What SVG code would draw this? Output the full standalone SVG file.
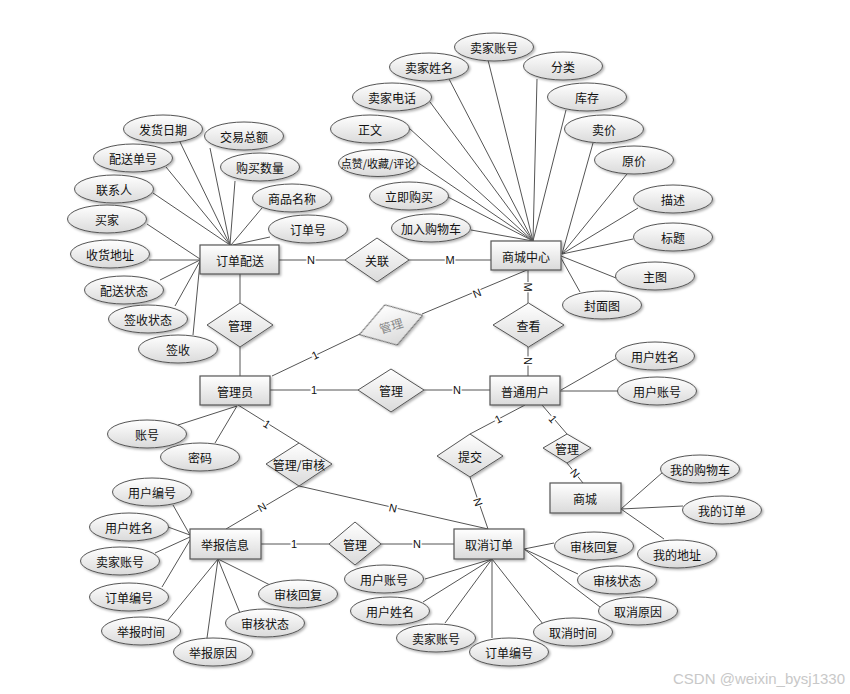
<svg xmlns="http://www.w3.org/2000/svg" width="850" height="694" viewBox="0 0 850 694">
<style>
.bg{fill:#ffffff}
.ln{stroke:#555;stroke-width:1;fill:none}
.ent{fill:url(#gr);stroke:#555;stroke-width:1.2;filter:url(#sh)}
.att{fill:url(#gr);stroke:#555;stroke-width:1;filter:url(#sh)}
.rel{fill:url(#gr);stroke:#555;stroke-width:1;filter:url(#sh)}
text{font-family:"Noto Sans CJK SC","Liberation Sans",sans-serif;font-size:12px;fill:#111;text-anchor:middle;dominant-baseline:central}
.lb{font-family:"Liberation Sans","Noto Sans CJK SC",sans-serif;font-size:11px;stroke:#fff;stroke-width:3;paint-order:stroke;fill:#111}
.wm{font-family:"Liberation Sans",sans-serif;font-size:15px;fill:#c8c8c8;text-anchor:end;dominant-baseline:alphabetic}
</style>
<defs>
<linearGradient id="gr" x1="0" y1="0" x2="0" y2="1">
<stop offset="0" stop-color="#ffffff"/>
<stop offset="1" stop-color="#dadada"/>
</linearGradient>
<filter id="sh" x="-20%" y="-20%" width="150%" height="150%">
<feDropShadow dx="1.5" dy="1.5" stdDeviation="1" flood-color="#000" flood-opacity="0.3"/>
</filter>
</defs>
<rect class="bg" x="0" y="0" width="850" height="694"/>

<g id="connectors">
<!-- 订单配送 attributes -->
<line class="ln" x1="180" y1="142" x2="230" y2="245"/>
<line class="ln" x1="210" y1="148" x2="230" y2="245"/>
<line class="ln" x1="166" y1="167" x2="230" y2="245"/>
<line class="ln" x1="235" y1="181" x2="230" y2="245"/>
<line class="ln" x1="153" y1="193" x2="230" y2="245"/>
<line class="ln" x1="262" y1="208" x2="231" y2="245"/>
<line class="ln" x1="270" y1="237" x2="233" y2="245"/>
<line class="ln" x1="147" y1="224" x2="200" y2="259"/>
<line class="ln" x1="149" y1="260" x2="200" y2="260"/>
<line class="ln" x1="160" y1="280" x2="200" y2="260"/>
<line class="ln" x1="175" y1="306" x2="200" y2="261"/>
<line class="ln" x1="193" y1="335" x2="200" y2="262"/>
<!-- 商城中心 attributes -->
<line class="ln" x1="488" y1="60" x2="533" y2="241"/>
<line class="ln" x1="448" y1="77" x2="533" y2="241"/>
<line class="ln" x1="537" y1="79" x2="533" y2="241"/>
<line class="ln" x1="430" y1="102" x2="533" y2="241"/>
<line class="ln" x1="566" y1="110" x2="533" y2="241"/>
<line class="ln" x1="409" y1="128" x2="533" y2="241"/>
<line class="ln" x1="417" y1="162" x2="533" y2="241"/>
<line class="ln" x1="448" y1="197" x2="533" y2="241"/>
<line class="ln" x1="471" y1="230" x2="533" y2="241"/>
<line class="ln" x1="593" y1="143" x2="562" y2="254"/>
<line class="ln" x1="627" y1="174" x2="562" y2="254"/>
<line class="ln" x1="638" y1="208" x2="562" y2="254"/>
<line class="ln" x1="633" y1="239" x2="562" y2="254"/>
<line class="ln" x1="616" y1="278" x2="561" y2="256"/>
<line class="ln" x1="580" y1="292" x2="561" y2="258"/>
<!-- 管理员 attributes -->
<line class="ln" x1="178" y1="425" x2="237" y2="406"/>
<line class="ln" x1="215" y1="443" x2="237" y2="406"/>
<!-- 普通用户 attributes -->
<line class="ln" x1="617" y1="358" x2="561" y2="390"/>
<line class="ln" x1="618" y1="391" x2="560" y2="391"/>
<!-- 商城 attributes -->
<line class="ln" x1="663" y1="472" x2="621" y2="509"/>
<line class="ln" x1="683" y1="506" x2="621" y2="509"/>
<line class="ln" x1="664" y1="539" x2="621" y2="509"/>
<!-- 举报信息 attributes -->
<line class="ln" x1="173" y1="505" x2="190" y2="535"/>
<line class="ln" x1="168" y1="527" x2="190" y2="535"/>
<line class="ln" x1="155" y1="553" x2="190" y2="537"/>
<line class="ln" x1="162" y1="587" x2="190" y2="540"/>
<line class="ln" x1="168" y1="620" x2="218" y2="559"/>
<line class="ln" x1="207" y1="638" x2="218" y2="559"/>
<line class="ln" x1="240" y1="613" x2="218" y2="559"/>
<line class="ln" x1="270" y1="585" x2="218" y2="559"/>
<!-- 取消订单 attributes -->
<line class="ln" x1="554" y1="543" x2="524" y2="549"/>
<line class="ln" x1="578" y1="574" x2="524" y2="549"/>
<line class="ln" x1="600" y1="607" x2="524" y2="549"/>
<line class="ln" x1="425" y1="579" x2="492" y2="559"/>
<line class="ln" x1="423" y1="602" x2="492" y2="559"/>
<line class="ln" x1="445" y1="623" x2="492" y2="559"/>
<line class="ln" x1="492" y1="638" x2="492" y2="559"/>
<line class="ln" x1="543" y1="624" x2="492" y2="559"/>
<!-- relationships -->
<line class="ln" x1="279" y1="260" x2="345" y2="260"/>
<line class="ln" x1="409" y1="260" x2="491" y2="260"/>
<line class="ln" x1="240" y1="274" x2="240" y2="303"/>
<line class="ln" x1="240" y1="347" x2="240" y2="376"/>
<line class="ln" x1="272" y1="376" x2="360" y2="334"/>
<line class="ln" x1="422" y1="314" x2="527" y2="270"/>
<line class="ln" x1="528" y1="270" x2="528" y2="303"/>
<line class="ln" x1="528" y1="347" x2="528" y2="376"/>
<line class="ln" x1="270" y1="390" x2="358" y2="390"/>
<line class="ln" x1="424" y1="390" x2="490" y2="390"/>
<line class="ln" x1="238" y1="405" x2="299" y2="443"/>
<line class="ln" x1="299" y1="486" x2="226" y2="529"/>
<line class="ln" x1="299" y1="486" x2="488" y2="529"/>
<line class="ln" x1="525" y1="405" x2="470" y2="434"/>
<line class="ln" x1="470" y1="477" x2="488" y2="529"/>
<line class="ln" x1="542" y1="405" x2="567" y2="434"/>
<line class="ln" x1="567" y1="463" x2="583" y2="483"/>
<line class="ln" x1="261" y1="544" x2="329" y2="544"/>
<line class="ln" x1="381" y1="544" x2="454" y2="544"/>
<!-- cardinality labels -->
<text class="lb" x="311" y="260">N</text>
<text class="lb" x="450" y="260">M</text>
<text class="lb" transform="rotate(-26 315 355)" x="315" y="355">1</text>
<text class="lb" transform="rotate(-22 477 293)" x="477" y="293">N</text>
<text class="lb" transform="rotate(90 528 287)" x="528" y="287">M</text>
<text class="lb" transform="rotate(90 528 361)" x="528" y="361">N</text>
<text class="lb" x="314" y="390">1</text>
<text class="lb" x="457" y="390">N</text>
<text class="lb" transform="rotate(32 267 424)" x="267" y="424">1</text>
<text class="lb" transform="rotate(-30 262 507)" x="262" y="507">N</text>
<text class="lb" transform="rotate(13 393 508)" x="393" y="508">N</text>
<text class="lb" transform="rotate(-28 498 419)" x="498" y="419">1</text>
<text class="lb" transform="rotate(71 478 502)" x="478" y="502">N</text>
<text class="lb" transform="rotate(49 553 419)" x="553" y="419">1</text>
<text class="lb" transform="rotate(51 575 473)" x="575" y="473">N</text>
<text class="lb" x="294" y="544">1</text>
<text class="lb" x="417" y="544">N</text>
</g>

<g id="rel-guanlian"><polygon class="rel" points="345,260 377,238 409,260 377,282"/><text x="377" y="260">关联</text></g>
<g id="rel-guanli-1"><polygon class="rel" points="207,325 240,303 273,325 240,347"/><text x="240" y="325">管理</text></g>
<g id="rel-guanli-2" transform="rotate(-17 391 325)"><polygon class="rel" points="358,325 391,304 424,325 391,346"/><text x="391" y="325" style="fill:#888">管理</text></g>
<g id="rel-chakan"><polygon class="rel" points="493,325 528.5,303 564,325 528.5,347"/><text x="528.5" y="325">查看</text></g>
<g id="rel-guanli-3"><polygon class="rel" points="358,390 391,369 424,390 391,412"/><text x="391" y="390">管理</text></g>
<g id="rel-shenhe"><polygon class="rel" points="266,464 299,443 332,464 299,486"/><text x="299" y="464">管理/审核</text></g>
<g id="rel-tijiao"><polygon class="rel" points="437,456 470,434 503,456 470,477"/><text x="470" y="456">提交</text></g>
<g id="rel-guanli-4"><polygon class="rel" points="543,448 567,434 591,448 567,463"/><text x="567" y="448">管理</text></g>
<g id="rel-guanli-5"><polygon class="rel" points="329,544 355,522 381,544 355,565"/><text x="355" y="544">管理</text></g>

<g id="ent-dingdanpeisong"><rect class="ent" x="200" y="245" width="79" height="29"/><text x="240" y="260">订单配送</text></g>
<g id="ent-shangchengzhongxin"><rect class="ent" x="491" y="241" width="70" height="29"/><text x="526" y="256">商城中心</text></g>
<g id="ent-guanliyuan"><rect class="ent" x="200" y="376" width="70" height="29"/><text x="235" y="391">管理员</text></g>
<g id="ent-putongyonghu"><rect class="ent" x="490" y="376" width="70" height="29"/><text x="525" y="391">普通用户</text></g>
<g id="ent-shangcheng"><rect class="ent" x="550" y="483" width="71" height="30"/><text x="585" y="498">商城</text></g>
<g id="ent-jubaoxinxi"><rect class="ent" x="190" y="529" width="71" height="30"/><text x="225" y="544">举报信息</text></g>
<g id="ent-quxiaodingdan"><rect class="ent" x="454" y="529" width="70" height="30"/><text x="489" y="544">取消订单</text></g>

<g id="attr-dd-1"><ellipse class="att" cx="163" cy="129" rx="39.5" ry="14"/><text x="163" y="129">发货日期</text></g>
<g id="attr-dd-2"><ellipse class="att" cx="244" cy="136" rx="39.5" ry="14"/><text x="244" y="136">交易总额</text></g>
<g id="attr-dd-3"><ellipse class="att" cx="133" cy="158" rx="39.5" ry="14"/><text x="133" y="158">配送单号</text></g>
<g id="attr-dd-4"><ellipse class="att" cx="260" cy="167" rx="39.5" ry="14"/><text x="260" y="167">购买数量</text></g>
<g id="attr-dd-5"><ellipse class="att" cx="114" cy="189" rx="39.5" ry="14"/><text x="114" y="189">联系人</text></g>
<g id="attr-dd-6"><ellipse class="att" cx="292" cy="198" rx="39.5" ry="14"/><text x="292" y="198">商品名称</text></g>
<g id="attr-dd-7"><ellipse class="att" cx="107" cy="219" rx="39.5" ry="14"/><text x="107" y="219">买家</text></g>
<g id="attr-dd-8"><ellipse class="att" cx="308" cy="229" rx="39.5" ry="14"/><text x="308" y="229">订单号</text></g>
<g id="attr-dd-9"><ellipse class="att" cx="110" cy="254" rx="39.5" ry="14"/><text x="110" y="254">收货地址</text></g>
<g id="attr-dd-10"><ellipse class="att" cx="124" cy="290" rx="39.5" ry="14"/><text x="124" y="290">配送状态</text></g>
<g id="attr-dd-11"><ellipse class="att" cx="148" cy="319" rx="39.5" ry="14"/><text x="148" y="319">签收状态</text></g>
<g id="attr-dd-12"><ellipse class="att" cx="178" cy="349" rx="39.5" ry="14"/><text x="178" y="349">签收</text></g>

<g id="attr-sc-1"><ellipse class="att" cx="494" cy="47" rx="39.5" ry="14"/><text x="494" y="47">卖家账号</text></g>
<g id="attr-sc-2"><ellipse class="att" cx="429" cy="67" rx="39.5" ry="14"/><text x="429" y="67">卖家姓名</text></g>
<g id="attr-sc-3"><ellipse class="att" cx="563" cy="66" rx="39.5" ry="14"/><text x="563" y="66">分类</text></g>
<g id="attr-sc-4"><ellipse class="att" cx="392" cy="97" rx="39.5" ry="14"/><text x="392" y="97">卖家电话</text></g>
<g id="attr-sc-5"><ellipse class="att" cx="587" cy="97" rx="39.5" ry="14"/><text x="587" y="97">库存</text></g>
<g id="attr-sc-6"><ellipse class="att" cx="370" cy="129" rx="39.5" ry="14"/><text x="370" y="129">正文</text></g>
<g id="attr-sc-7"><ellipse class="att" cx="604" cy="129" rx="39.5" ry="14"/><text x="604" y="129">卖价</text></g>
<g id="attr-sc-8"><ellipse class="att" cx="378" cy="163" rx="39.5" ry="13.5"/><text x="378" y="163" style="font-size:11px">点赞/收藏/评论</text></g>
<g id="attr-sc-9"><ellipse class="att" cx="634" cy="160" rx="39.5" ry="14"/><text x="634" y="160">原价</text></g>
<g id="attr-sc-10"><ellipse class="att" cx="409" cy="196" rx="39.5" ry="14"/><text x="409" y="196">立即购买</text></g>
<g id="attr-sc-11"><ellipse class="att" cx="673" cy="199" rx="39.5" ry="14"/><text x="673" y="199">描述</text></g>
<g id="attr-sc-12"><ellipse class="att" cx="431" cy="228" rx="39.5" ry="14"/><text x="431" y="228">加入购物车</text></g>
<g id="attr-sc-13"><ellipse class="att" cx="673" cy="237" rx="39.5" ry="14"/><text x="673" y="237">标题</text></g>
<g id="attr-sc-14"><ellipse class="att" cx="655" cy="276" rx="39.5" ry="14"/><text x="655" y="276">主图</text></g>
<g id="attr-sc-15"><ellipse class="att" cx="602" cy="305" rx="39.5" ry="14"/><text x="602" y="305">封面图</text></g>

<g id="attr-gly-1"><ellipse class="att" cx="147" cy="434" rx="39.5" ry="14"/><text x="147" y="434">账号</text></g>
<g id="attr-gly-2"><ellipse class="att" cx="200" cy="457" rx="39.5" ry="14"/><text x="200" y="457">密码</text></g>

<g id="attr-pt-1"><ellipse class="att" cx="655" cy="356" rx="39.5" ry="14"/><text x="655" y="356">用户姓名</text></g>
<g id="attr-pt-2"><ellipse class="att" cx="657" cy="391" rx="39.5" ry="14"/><text x="657" y="391">用户账号</text></g>

<g id="attr-sch-1"><ellipse class="att" cx="700" cy="469" rx="39.5" ry="14"/><text x="700" y="469">我的购物车</text></g>
<g id="attr-sch-2"><ellipse class="att" cx="722" cy="510" rx="39.5" ry="14"/><text x="722" y="510">我的订单</text></g>
<g id="attr-sch-3"><ellipse class="att" cx="677" cy="554" rx="39.5" ry="14"/><text x="677" y="554">我的地址</text></g>

<g id="attr-jb-1"><ellipse class="att" cx="152" cy="492" rx="39.5" ry="14"/><text x="152" y="492">用户编号</text></g>
<g id="attr-jb-2"><ellipse class="att" cx="129" cy="527" rx="39.5" ry="14"/><text x="129" y="527">用户姓名</text></g>
<g id="attr-jb-3"><ellipse class="att" cx="120" cy="561" rx="39.5" ry="14"/><text x="120" y="561">卖家账号</text></g>
<g id="attr-jb-4"><ellipse class="att" cx="129" cy="597" rx="39.5" ry="14"/><text x="129" y="597">订单编号</text></g>
<g id="attr-jb-5"><ellipse class="att" cx="298" cy="594" rx="39.5" ry="14"/><text x="298" y="594">审核回复</text></g>
<g id="attr-jb-6"><ellipse class="att" cx="265" cy="623" rx="39.5" ry="14"/><text x="265" y="623">审核状态</text></g>
<g id="attr-jb-7"><ellipse class="att" cx="141" cy="631" rx="39.5" ry="14"/><text x="141" y="631">举报时间</text></g>
<g id="attr-jb-8"><ellipse class="att" cx="213" cy="652" rx="39.5" ry="14"/><text x="213" y="652">举报原因</text></g>

<g id="attr-qx-1"><ellipse class="att" cx="594" cy="546" rx="39.5" ry="14"/><text x="594" y="546">审核回复</text></g>
<g id="attr-qx-2"><ellipse class="att" cx="617" cy="580" rx="39.5" ry="14"/><text x="617" y="580">审核状态</text></g>
<g id="attr-qx-3"><ellipse class="att" cx="638" cy="611" rx="39.5" ry="14"/><text x="638" y="611">取消原因</text></g>
<g id="attr-qx-4"><ellipse class="att" cx="384" cy="579" rx="39.5" ry="14"/><text x="384" y="579">用户账号</text></g>
<g id="attr-qx-5"><ellipse class="att" cx="390" cy="611" rx="39.5" ry="14"/><text x="390" y="611">用户姓名</text></g>
<g id="attr-qx-6"><ellipse class="att" cx="436" cy="638" rx="39.5" ry="14"/><text x="436" y="638">卖家账号</text></g>
<g id="attr-qx-7"><ellipse class="att" cx="573" cy="632" rx="39.5" ry="14"/><text x="573" y="632">取消时间</text></g>
<g id="attr-qx-8"><ellipse class="att" cx="509" cy="652" rx="39.5" ry="14"/><text x="509" y="652">订单编号</text></g>

<text class="wm" x="845" y="684">CSDN @weixin_bysj1330</text>
</svg>
